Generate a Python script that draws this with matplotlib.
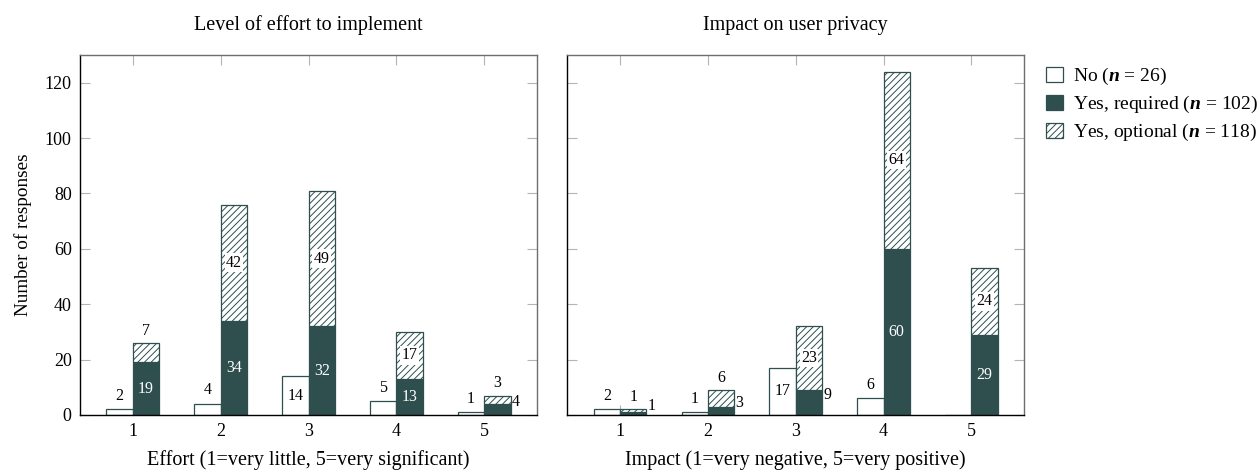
import matplotlib
matplotlib.use('Agg')
import matplotlib.pyplot as plt
import numpy as np

plt.rcParams['font.family'] = ['Liberation Serif', 'DejaVu Serif']
plt.rcParams['mathtext.fontset'] = 'custom'
plt.rcParams['mathtext.rm'] = 'Liberation Serif'
plt.rcParams['mathtext.it'] = 'Liberation Serif:italic:bold'
plt.rcParams['hatch.linewidth'] = 0.7

# Survey responses per rating (1-5)
ratings = [1, 2, 3, 4, 5]

effort_no = [2, 4, 14, 5, 1]
effort_required = [19, 34, 32, 13, 4]
effort_optional = [7, 42, 49, 17, 3]

impact_no = [2, 1, 17, 6, 0]
impact_required = [1, 3, 9, 60, 29]
impact_optional = [1, 6, 23, 64, 24]

legend_labels = ['No ($n$ = 26)', 'Yes, required ($n$ = 102)', 'Yes, optional ($n$ = 118)']
y_ticks = [0, 20, 40, 60, 80, 100, 120]

DARK = '#2f4f4f'
TICK_GRAY = '#b4b4b4'
FRAME_GRAY = '#6e6e6e'
W = 0.3
LBL = 11.5


def style_axes(ax):
    ax.set_xlim(0.4, 5.6)
    ax.set_ylim(0, 130)
    ax.set_xticks(ratings)
    ax.set_yticks(y_ticks)
    ax.set_axisbelow(True)
    ax.tick_params(axis='both', direction='in', length=7, width=0.8, color=TICK_GRAY,
                   top=True, right=True, labelsize=13, pad=6)
    ax.spines['left'].set_color('black')
    ax.spines['bottom'].set_color('black')
    ax.spines['top'].set_color(FRAME_GRAY)
    ax.spines['right'].set_color(FRAME_GRAY)
    for sp in ax.spines.values():
        sp.set_linewidth(1.0)


def draw_panel(ax, no, req, opt, title, xlabel):
    x = np.array(ratings, dtype=float)
    ax.bar(x - W / 2, no, W, color='white', edgecolor=DARK, linewidth=0.9, label=legend_labels[0])
    ax.bar(x + W / 2, req, W, color=DARK, edgecolor=DARK, linewidth=0.9, label=legend_labels[1])
    ax.bar(x + W / 2, opt, W, bottom=req, color='white', edgecolor=DARK, hatch='/////',
           linewidth=0.9, label=legend_labels[2])

    for xi, v in zip(x, no):
        if v == 0:
            continue
        if v >= 10:
            ax.text(xi - W / 2, v / 2, str(v), ha='center', va='center', fontsize=LBL)
        else:
            ax.annotate(str(v), (xi - W / 2, v), xytext=(0, 4), textcoords='offset points',
                        ha='center', va='bottom', fontsize=LBL)

    for xi, r, o in zip(x, req, opt):
        if r >= 10:
            ax.text(xi + W / 2, r / 2, str(r), ha='center', va='center', fontsize=LBL, color='white')
        else:
            ax.annotate(str(r), (xi + W, r / 2), xytext=(1, 5.5), textcoords='offset points',
                        ha='left', va='center', fontsize=LBL)
        box = dict(boxstyle='square,pad=0.08', fc='white', ec='none')
        if o >= 10:
            ax.text(xi + W / 2, r + o / 2, str(o), ha='center', va='center', fontsize=LBL, bbox=box)
        else:
            ax.annotate(str(o), (xi + W / 2, r + o), xytext=(0, 3), textcoords='offset points',
                        ha='center', va='bottom', fontsize=LBL)

    style_axes(ax)
    ax.set_title(title, fontsize=14.5, pad=18)
    ax.set_xlabel(xlabel, fontsize=14.5, labelpad=7)


fig = plt.figure(figsize=(12.58, 4.72), dpi=100)
ax1 = fig.add_axes([0.0636, 0.1208, 0.3633, 0.7627])
ax2 = fig.add_axes([0.4511, 0.1208, 0.3629, 0.7627])

draw_panel(ax1, effort_no, effort_required, effort_optional,
           'Level of effort to implement', 'Effort (1=very little, 5=very significant)')
draw_panel(ax2, impact_no, impact_required, impact_optional,
           'Impact on user privacy', 'Impact (1=very negative, 5=very positive)')

ax1.set_ylabel('Number of responses', fontsize=13.8, labelpad=9)
ax2.tick_params(labelleft=False)

handles, labels = ax1.get_legend_handles_labels()
fig.legend(handles, labels, loc='upper left', bbox_to_anchor=(0.8315, 0.86), frameon=False,
           fontsize=14, handlelength=0.85, handleheight=0.85, handletextpad=0.55,
           labelspacing=0.36, borderpad=0, borderaxespad=0)

fig.savefig('out.png', dpi=100)
